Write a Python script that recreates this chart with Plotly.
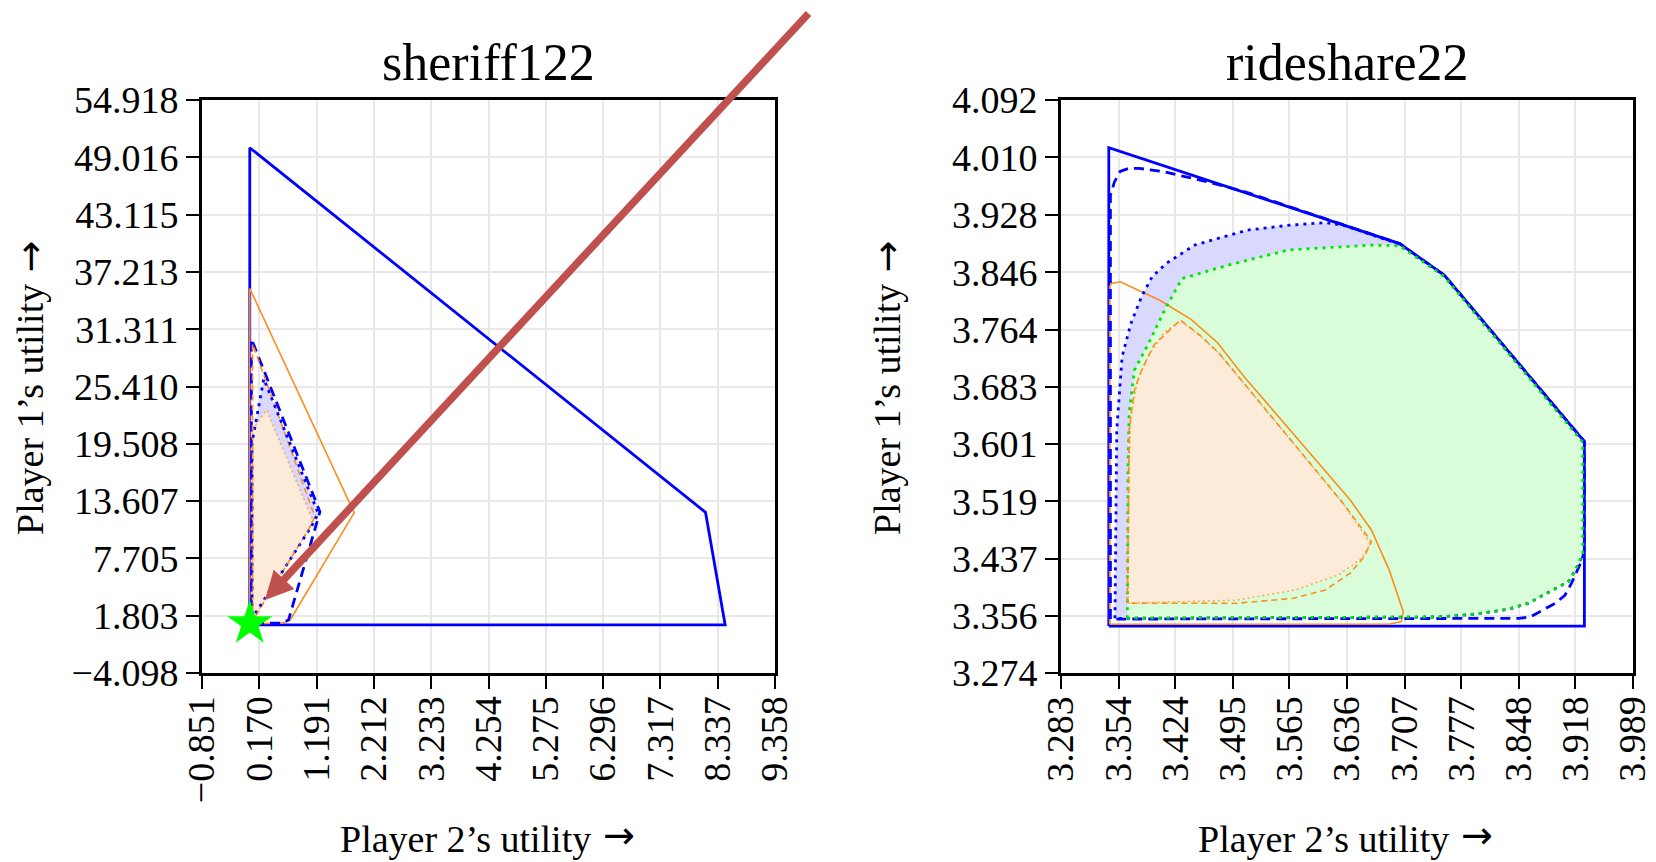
import plotly.graph_objects as go

# ---------------- data: sheriff122 ----------------
sh_x_ticks = [-0.851, 0.170, 1.191, 2.212, 3.233, 4.254, 5.275, 6.296, 7.317, 8.337, 9.358]
sh_y_ticks = [-4.098, 1.803, 7.705, 13.607, 19.508, 25.410, 31.311, 37.213, 43.115, 49.016, 54.918]

sh_blue_solid_x = [0.0, 0.0, 8.12, 8.47, 0.0]
sh_blue_solid_y = [0.85, 50.0, 12.45, 0.85, 0.85]
sh_orange_solid_x = [0.0, 0.0, 1.86, 0.72, 0.60, 0.20, 0.0]
sh_orange_solid_y = [0.95, 35.5, 12.4, 1.36, 1.08, 0.95, 0.95]
sh_blue_dashed_x = [0.03, 0.03, 1.25, 0.69, 0.55, 0.03]
sh_blue_dashed_y = [1.0, 30.3, 12.5, 1.36, 1.05, 1.0]
sh_orange_dashed_x = [0.05, 0.05, 1.16, 1.06, 0.16, 0.05]
sh_orange_dashed_y = [1.3, 29.8, 12.0, 10.8, 2.3, 1.3]
sh_blue_dotted_x = [0.04, 0.04, 0.25, 1.22, 1.10, 0.18, 0.06, 0.04]
sh_blue_dotted_y = [1.2, 19.6, 26.2, 12.35, 11.0, 2.73, 1.7, 1.2]
sh_orange_dotted_x = [0.05, 0.05, 0.30, 1.12, 1.04, 0.15, 0.05]
sh_orange_dotted_y = [1.4, 21.0, 23.0, 11.7, 10.6, 2.4, 1.4]
sh_star_x = [0.0]
sh_star_y = [1.0]
sh_arrow_head = (0.27, 3.42)
sh_arrow_tail = (9.98, 63.98)

# ---------------- data: rideshare22 ----------------
rs_x_ticks = [3.283, 3.354, 3.424, 3.495, 3.565, 3.636, 3.707, 3.777, 3.848, 3.918, 3.989]
rs_y_ticks = [3.274, 3.356, 3.437, 3.519, 3.601, 3.683, 3.764, 3.846, 3.928, 4.010, 4.092]

rs_blue_solid_x = [3.342, 3.342, 3.701, 3.756, 3.929, 3.929, 3.342]
rs_blue_solid_y = [3.341, 4.024, 3.887, 3.842, 3.6045, 3.341, 3.341]
rs_blue_dashed_x = [3.344, 3.344, 3.349, 3.356, 3.367, 3.379, 3.408, 3.465, 3.510, 3.701, 3.756,
                    3.929, 3.929, 3.926, 3.913, 3.905, 3.893, 3.862, 3.848, 3.344]
rs_blue_dashed_y = [3.351, 3.956, 3.975, 3.990, 3.9945, 3.9945, 3.990, 3.975, 3.961, 3.887, 3.842,
                    3.6045, 3.45, 3.435, 3.402, 3.385, 3.3735, 3.354, 3.352, 3.351]
rs_blue_dotted_x = [3.3496, 3.351, 3.3518, 3.3584, 3.3693, 3.3824, 3.3955, 3.4129, 3.4479, 3.5133,
                    3.5657, 3.6094, 3.6312, 3.701, 3.756, 3.928, 3.928, 3.918, 3.909, 3.889, 3.860,
                    3.835, 3.794, 3.75, 3.3496]
rs_blue_dotted_y = [3.352, 3.478, 3.621, 3.7256, 3.7731, 3.8112, 3.8397, 3.8587, 3.8849, 3.9063,
                    3.9134, 3.9168, 3.9134, 3.886, 3.841, 3.604, 3.445, 3.421, 3.404, 3.392, 3.3735,
                    3.365, 3.358, 3.354, 3.352]
rs_green_dotted_x = [3.3649, 3.3658, 3.3671, 3.3736, 3.3911, 3.4129, 3.4326, 3.4406, 3.490, 3.564,
                     3.6661, 3.701, 3.756, 3.927, 3.927, 3.918, 3.909, 3.889, 3.860, 3.835, 3.794,
                     3.75, 3.3649]
rs_green_dotted_y = [3.3522, 3.5734, 3.6447, 3.7065, 3.7446, 3.7969, 3.8373, 3.8398, 3.8565, 3.878,
                     3.8849, 3.884, 3.840, 3.6035, 3.445, 3.421, 3.404, 3.392, 3.3735, 3.365, 3.358,
                     3.354, 3.3522]
rs_orange_solid_x = [3.3431, 3.3431, 3.3453, 3.3562, 3.4042, 3.4435, 3.4762, 3.509, 3.640, 3.6661,
                     3.688, 3.7054, 3.7032, 3.688, 3.3431]
rs_orange_solid_y = [3.3435, 3.8255, 3.8302, 3.8326, 3.8064, 3.7788, 3.7455, 3.697, 3.521, 3.4782,
                     3.4212, 3.3617, 3.3474, 3.3435, 3.3435]
rs_orange_dashed_x = [3.3649, 3.3658, 3.3671, 3.3736, 3.3824, 3.3977, 3.4304, 3.4566, 3.4784, 3.6312,
                      3.6661, 3.6574, 3.640, 3.6094, 3.5701, 3.5002, 3.3649]
rs_orange_dashed_y = [3.3736, 3.5258, 3.6209, 3.678, 3.7065, 3.7422, 3.7779, 3.7541, 3.7303, 3.5163,
                      3.4616, 3.4402, 3.4164, 3.3926, 3.3807, 3.3736, 3.3736]
rs_orange_dotted_x = [3.366, 3.3668, 3.369, 3.377, 3.390, 3.410, 3.4304, 3.4566, 3.4784, 3.6312,
                      3.6647, 3.6545, 3.6256, 3.572, 3.500, 3.400, 3.366]
rs_orange_dotted_y = [3.3736, 3.55, 3.64, 3.69, 3.725, 3.76, 3.7765, 3.7535, 3.73, 3.516,
                      3.459, 3.4377, 3.414, 3.3925, 3.378, 3.374, 3.3736]

titles = ["sheriff122", "rideshare22"]
x_title = "Player 2’s utility"
y_title = "Player 1’s utility"
arrow_glyph = "\u00a0→\u00a0"

# ---------------- styles ----------------
BLUE = "#0000ff"
ORANGE = "#ff8c1a"
GREEN = "#00e600"
LAVENDER = "#d9d9ff"
MINT = "#d9fdd9"
PEACH = "#fdebd9"
FONT = "Liberation Serif"
ARROW_FONT = "DejaVu Sans"
TICK_SIZE = 38
LABEL_SIZE = 38


def fmt(v):
    s = f"{v:.3f}"
    return s.replace("-", "−")


fig = go.Figure()


def fill(x, y, color, xa, ya):
    fig.add_trace(go.Scatter(x=x, y=y, mode="lines", fill="toself", fillcolor=color,
                             line=dict(width=0, color=color), hoverinfo="skip",
                             showlegend=False, xaxis=xa, yaxis=ya))


def line(x, y, color, width, dash, xa, ya):
    fig.add_trace(go.Scatter(x=x, y=y, mode="lines",
                             line=dict(color=color, width=width, dash=dash),
                             showlegend=False, xaxis=xa, yaxis=ya))


# left plot
fill(sh_blue_dotted_x, sh_blue_dotted_y, LAVENDER, "x", "y")
fill(sh_orange_dotted_x, sh_orange_dotted_y, PEACH, "x", "y")
line(sh_blue_solid_x, sh_blue_solid_y, BLUE, 2.8, "solid", "x", "y")
line(sh_orange_solid_x, sh_orange_solid_y, ORANGE, 1.6, "solid", "x", "y")
line(sh_blue_dashed_x, sh_blue_dashed_y, BLUE, 2.8, "10px,6px", "x", "y")
line(sh_orange_dashed_x, sh_orange_dashed_y, ORANGE, 1.6, "6px,4px", "x", "y")
line(sh_blue_dotted_x, sh_blue_dotted_y, BLUE, 2.8, "3px,5px", "x", "y")
line(sh_orange_dotted_x, sh_orange_dotted_y, "rgba(255,140,26,0.7)", 1.6, "2px,3px", "x", "y")
fig.add_trace(go.Scatter(x=sh_star_x, y=sh_star_y, mode="markers",
                         marker=dict(symbol="star", size=34, color="#00ff00", line=dict(width=0)),
                         showlegend=False, xaxis="x", yaxis="y", cliponaxis=False))

# right plot
fill(rs_blue_dotted_x, rs_blue_dotted_y, LAVENDER, "x2", "y2")
fill(rs_green_dotted_x, rs_green_dotted_y, MINT, "x2", "y2")
fill(rs_orange_dotted_x, rs_orange_dotted_y, PEACH, "x2", "y2")
line(rs_blue_solid_x, rs_blue_solid_y, BLUE, 2.8, "solid", "x2", "y2")
line(rs_orange_solid_x, rs_orange_solid_y, ORANGE, 1.6, "solid", "x2", "y2")
line(rs_blue_dashed_x, rs_blue_dashed_y, BLUE, 2.8, "10px,6px", "x2", "y2")
line(rs_blue_dotted_x, rs_blue_dotted_y, BLUE, 2.8, "3px,5px", "x2", "y2")
line(rs_green_dotted_x, rs_green_dotted_y, GREEN, 2.8, "3px,5px", "x2", "y2")
line(rs_orange_dashed_x, rs_orange_dashed_y, ORANGE, 1.6, "6px,4px", "x2", "y2")
line(rs_orange_dotted_x, rs_orange_dotted_y, "rgba(255,140,26,0.7)", 1.6, "2px,3px", "x2", "y2")

W, H = 1656, 862
L_DOM = [202 / W, 775 / W]
R_DOM = [1061 / W, 1633 / W]
Y_DOM = [1 - 673 / H, 1 - 100 / H]


def xaxis(dom, ticks, anchor):
    return dict(domain=dom, range=[ticks[0], ticks[-1]], tickvals=ticks,
                ticktext=[fmt(t) for t in ticks], tickangle=-90,
                showgrid=True, gridcolor="#e8e8e8", gridwidth=1.5,
                showline=True, linecolor="black", linewidth=3, mirror=True,
                ticks="outside", ticklen=13, tickwidth=2, tickcolor="black",
                zeroline=False, anchor=anchor, automargin=False, ticklabelstandoff=-8,
                ticklabeloverflow="allow",
                tickfont=dict(family=FONT, size=TICK_SIZE, color="black"))


def yaxis(dom, ticks, anchor):
    return dict(domain=dom, range=[ticks[0], ticks[-1]], tickvals=ticks,
                ticktext=[fmt(t) for t in ticks],
                showgrid=True, gridcolor="#e8e8e8", gridwidth=1.5,
                showline=True, linecolor="black", linewidth=3, mirror=True,
                ticks="outside", ticklen=13, tickwidth=2, tickcolor="black",
                zeroline=False, anchor=anchor, automargin=False,
                ticklabeloverflow="allow",
                tickfont=dict(family=FONT, size=TICK_SIZE, color="black"))


def label(text, x, y, size, angle=0, xanchor="center", yanchor="middle", family=FONT):
    return dict(text=text, x=x, y=y, xref="paper", yref="paper", showarrow=False,
                xanchor=xanchor, yanchor=yanchor, textangle=angle,
                font=dict(family=family, size=size, color="black"))


annotations = []
for dom, title in ((L_DOM, titles[0]), (R_DOM, titles[1])):
    cx = (dom[0] + dom[1]) / 2 * W
    annotations.append(label(title, cx / W, 1 - 62 / H, 52))
    # x-axis title, with the arrow as its own glyph
    annotations.append(label(x_title, (cx + 104) / W, 1 - 839 / H, LABEL_SIZE, xanchor="right"))
    annotations.append(label(arrow_glyph, (cx + 100) / W, 1 - 835 / H, LABEL_SIZE,
                             xanchor="left", family=ARROW_FONT))

cy = (100 + 673) / 2
for xpix in (30, 887):
    annotations.append(label(y_title, xpix / W, 1 - (cy - 104) / H, LABEL_SIZE, angle=-90,
                             yanchor="top"))
    annotations.append(label(arrow_glyph, xpix / W, 1 - (cy - 100) / H, LABEL_SIZE, angle=-90,
                             yanchor="bottom", family=ARROW_FONT))

annotations.append(dict(x=sh_arrow_head[0], y=sh_arrow_head[1], ax=sh_arrow_tail[0],
                        ay=sh_arrow_tail[1], xref="x", yref="y", axref="x", ayref="y", text="",
                        showarrow=True, arrowhead=2, arrowsize=0.75, arrowwidth=7.5,
                        arrowcolor="#c0504d", standoff=0))

fig.update_layout(
    width=W, height=H,
    margin=dict(l=0, r=0, t=0, b=0),
    paper_bgcolor="white", plot_bgcolor="white",
    xaxis=xaxis(L_DOM, sh_x_ticks, "y"),
    yaxis=yaxis(Y_DOM, sh_y_ticks, "x"),
    xaxis2=xaxis(R_DOM, rs_x_ticks, "y2"),
    yaxis2=yaxis(Y_DOM, rs_y_ticks, "x2"),
    annotations=annotations,
)

fig.write_html("out.html", config={"displayModeBar": False},
               post_script="document.body.style.margin='0';")
